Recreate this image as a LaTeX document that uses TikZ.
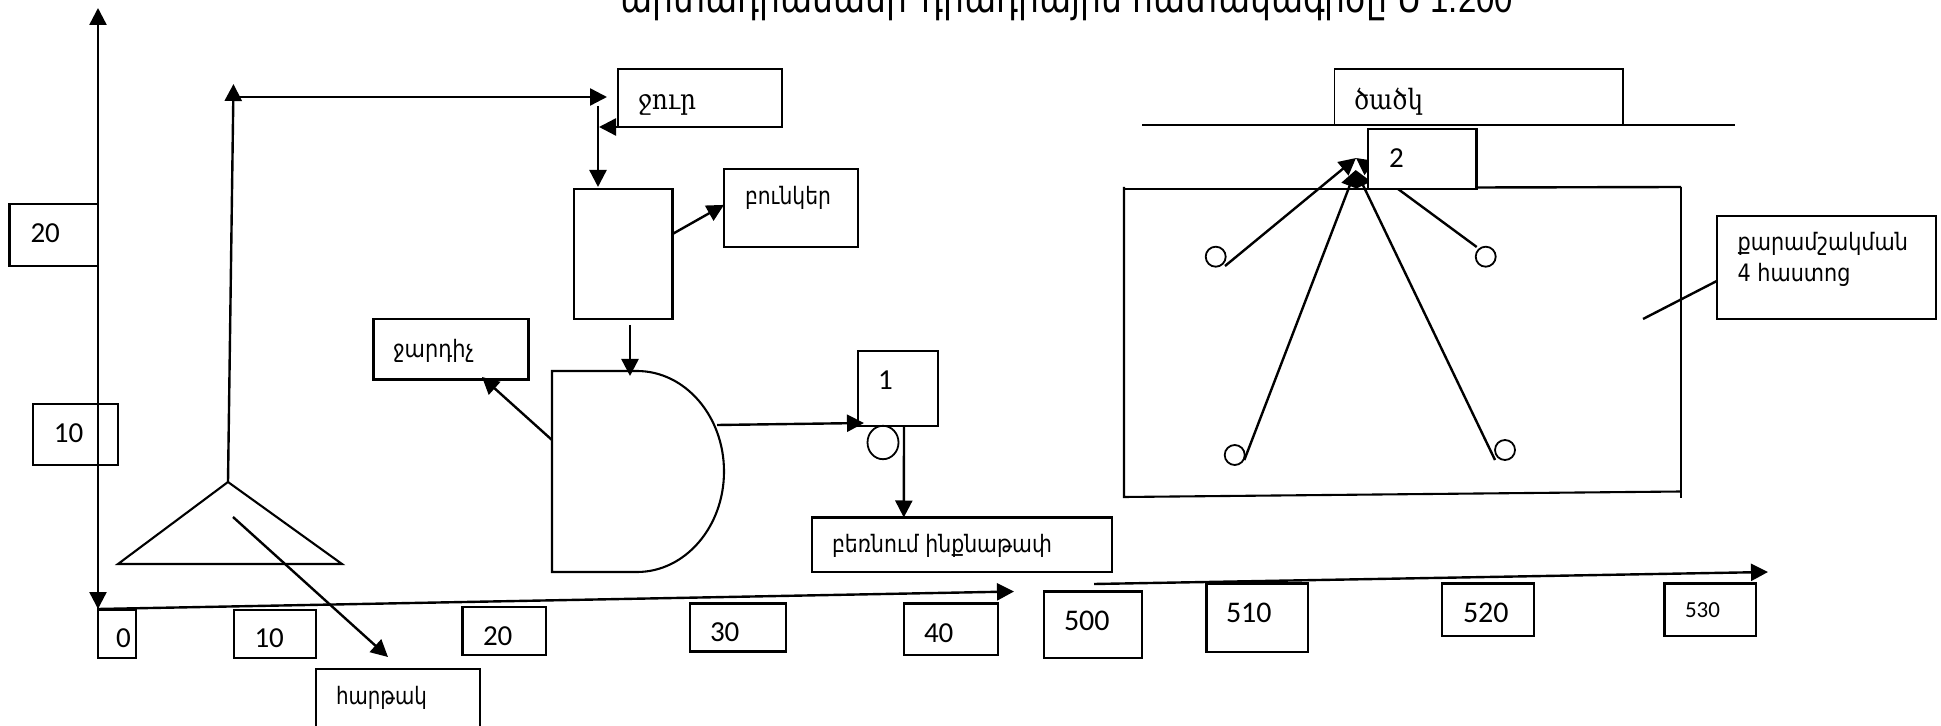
\documentclass[tikz,border=0pt]{standalone}
\usepackage{fontspec}
\usepackage{graphicx}
\setmainfont{DejaVu Sans}
\newfontfamily\arm{DejaVu Sans}
\newfontfamily\armserif{DejaVu Serif}
\newfontfamily\num{Carlito}
\newfontfamily\lat{Liberation Sans}
\usetikzlibrary{arrows.meta,calc,shapes.geometric}
\newlength\pu \setlength\pu{0.5pt}
\tikzset{
  ln/.style={line width=1.2pt,black},
  arr/.style={ln,-{Triangle[length=8.5pt,width=8.5pt]}},
  bx/.style={draw=black,line width=1.05pt,inner sep=0pt,outer sep=0pt,shape=rectangle},
  thinbx/.style={bx,line width=.7pt},
  lbl/.style={anchor=base west,inner sep=0pt,outer sep=0pt},
  dot/.style={draw=black,line width=.9pt,circle,inner sep=0pt,outer sep=0pt,minimum size=10pt}
}
% [options]{name}{x1}{y1}{x2}{y2}
\newcommand{\bxn}[6][]{\node[bx,minimum width={(#5-#3)*0.5pt},minimum height={(#6-#4)*0.5pt},#1] (#2) at ({(#3+#5)/2},{(#4+#6)/2}) {};}
% {name}{x}{baseline y}{size pt}{width px}{font+text}
\newcommand{\txtn}[6]{\node[lbl] (#1) at (#2,#3) {\resizebox{#5\pu}{\height}{\fontsize{#4pt}{#4pt}\selectfont #6}};}
\newcommand{\numn}[5]{\node[lbl] (#1) at (#2,#3) {\fontsize{#4pt}{#4pt}\selectfont\num #5};}
\begin{document}
\begin{tikzpicture}[x=0.5pt,y=-0.5pt]
\clip (0,0) rectangle (1941,726);
\fill[white] (0,0) rectangle (1941,726);

\txtn{title}{620}{13}{20}{893}{\arm արտադրամասի\hspace{.45em}դիադրային հատակագիծը Մ\hspace{.2em}{\lat 1:200}}

% --- left scale
\bxn{v20}{9.5}{204}{98}{266}
\bxn{v10}{33}{404}{118}{465}
\numn{v20t}{30.5}{243}{14.5}{20}
\numn{v10t}{54}{443}{14.5}{10}
\coordinate (axTop) at (98,8);
\coordinate (axBot) at (98,609);
\draw[arr] (98,609) -- (axTop);
\draw[arr] (98,300) -- (axBot);

% --- hopper
\coordinate (apex) at (228,482);
\coordinate (baseL) at (118,564);
\coordinate (baseR) at (342,564);
\draw[ln,line width=1.05pt] (apex) -- (baseL) -- (baseR) -- cycle;
\coordinate (riseTip) at (233.5,84);
\draw[arr] (apex) -- (riseTip);
\coordinate (flowA) at (234,97);
\coordinate (flowTip) at (607,97);
\draw[arr] (flowA) -- (flowTip);

% --- water, tank, bunker
\bxn{water}{618}{69}{782}{127}
\txtn{watert}{638}{110}{14}{58}{\armserif ջուր}
\coordinate (joinTip) at (599,127);
\draw[arr] (water.south west) -- (joinTip);
\coordinate (feedA) at (598,106);
\coordinate (feedTip) at (598,187);
\draw[arr] (feedA) -- (feedTip);
\bxn{tank}{574}{189}{672.5}{319}
\bxn{bunker}{724}{169}{858}{247}
\txtn{bunkert}{745}{205}{12}{86}{\arm բունկեր}
\coordinate (tankR) at (672.5,234);
\draw[arr] (tankR) -- ($(bunker.south west)!.54!(bunker.north west)$);

% --- mixer D
\coordinate (dTL) at (552,371);
\coordinate (dTR) at (637,371);
\coordinate (dBL) at (552,572);
\draw[ln,line width=1.05pt] (dBL) -- (dTL) -- (dTR) arc[start angle=-90,end angle=90,x radius=87,y radius=100.5] -- cycle;
\coordinate (tankOut) at (630,325);
\coordinate (dIn) at (630,376);
\draw[arr] (tankOut) -- (dIn);
\bxn{crusher}{373.5}{319}{528.5}{379.5}
\txtn{crushert}{393}{358}{12}{81}{\arm ջարդիչ}
\coordinate (dLeft) at (552,440);
\draw[arr] (dLeft) -- (482,377);

% --- box 1 and output
\bxn{one}{858}{351}{938}{426}
\numn{onet}{878}{390}{14.5}{1}
\coordinate (dOut) at (717,425);
\draw[arr] (dOut) -- (864,423);
\node[draw=black,line width=.9pt,ellipse,inner sep=0pt,outer sep=0pt,minimum width=15.5pt,minimum height=16.7pt] (wheel) at (883,442.5) {};
\bxn{concrete}{812}{517.5}{1112}{572}
\txtn{concretet}{832}{552}{12}{220}{\arm բեռնում ինքնաթափ}
\draw[arr] ($(one.south west)!.575!(one.south east)$) -- ($(concrete.north west)!.306!(concrete.north east)$);

% --- platform
\bxn{plat}{316}{669}{480}{727}
\txtn{platt}{336}{704}{12}{91}{\arm հարթակ}
\coordinate (hopIn) at (233,517);
\coordinate (platTip) at (388,657);
\draw[arr] (hopIn) -- (platTip);

% --- bottom axes
\coordinate (h1A) at (98,609);
\coordinate (h1Tip) at (1014,591.5);
\draw[arr] (h1A) -- (h1Tip);
\bxn{s0}{98}{610}{136}{658}
\bxn{s10}{234}{610}{316}{658}
\bxn{s20}{462.5}{607}{546}{655}
\bxn{s30}{690}{603.5}{786}{651.5}
\bxn{s40}{904}{603.5}{998}{655}
\bxn{s500}{1044}{591.5}{1142}{658}
\bxn{s510}{1206.5}{583.5}{1308}{652}
\bxn{s520}{1442}{583.5}{1534}{636}
\bxn{s530}{1664.5}{583.5}{1756}{636}
\numn{s0t}{116}{647}{14.5}{0}
\numn{s10t}{254.5}{647}{14.5}{10}
\numn{s20t}{483}{645}{14.5}{20}
\numn{s30t}{710}{641}{14.5}{30}
\numn{s40t}{924}{642}{14.5}{40}
\numn{s500t}{1064}{630}{15}{500}
\numn{s510t}{1226}{622}{15}{510}
\numn{s520t}{1463}{622.5}{15}{520}
\numn{s530t}{1685}{617}{11.5}{530}
\coordinate (h2A) at (1094,584);
\coordinate (h2Tip) at (1768,572);
\draw[arr] (h2A) -- (h2Tip);

% --- ceiling
\bxn[thinbx]{roof}{1334.5}{69}{1623}{125}
\txtn{rooft}{1354}{110}{14}{69}{\armserif ծածկ}
\coordinate (ceilL) at (1142,125);
\coordinate (ceilR) at (1735,125);
\draw[ln] (ceilL) -- (ceilR);

% --- room
\coordinate (rTL) at (1124,187);
\coordinate (rBL) at (1124,497);
\coordinate (rTR) at (1681,187);
\coordinate (rBR) at (1681,498);
\coordinate (rBRi) at (1681,491.5);
\draw[ln,line width=1.05pt] (rTL) -- (rBL) -- (rBRi);
\draw[ln,line width=1.05pt] (rTR) -- (rBR);
\draw[ln] (1124,189) -- (1368,189);
\draw[ln] (1477,187.5) -- (rTR);

% --- machines
\node[dot] (m1) at (1215.7,256.7) {};
\node[dot] (m2) at (1485.7,256.7) {};
\node[dot] (m3) at (1234.7,455) {};
\node[dot] (m4) at (1505,450) {};
\coordinate (t1) at (1356,158);
\coordinate (t2) at (1355.7,170);
\draw[arr] (1225,266) -- (t1);
\draw[arr] (1476.7,247) -- (t1);
\draw[arr] (1244.3,460) -- (t2);
\draw[arr] (1495,460) -- (t2);
\bxn[fill=white]{two}{1368}{129}{1476.5}{189}
\numn{twot}{1389}{168}{14.5}{2}

% --- stone-cutting note
\bxn{note}{1717}{216}{1936}{319}
\txtn{notea}{1737.5}{250.7}{12}{170.5}{\arm քարամշակման}
\txtn{noteb}{1737.5}{281.7}{12}{113}{\arm 4 հաստոց}
\coordinate (noteEnd) at (1643,319);
\draw[ln] ($(note.south west)!.37!(note.north west)$) -- (noteEnd);
\end{tikzpicture}
\end{document}
